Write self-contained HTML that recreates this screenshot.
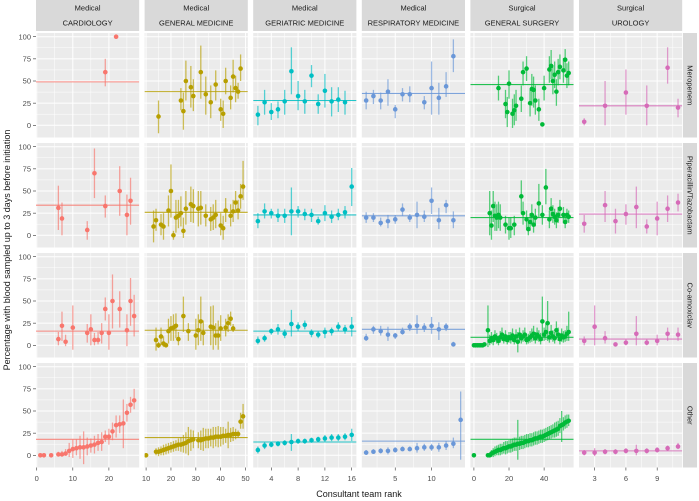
<!DOCTYPE html>
<html><head><meta charset="utf-8"><style>
body{margin:0;background:#fff;}
svg{display:block;font-family:"Liberation Sans",sans-serif;}
</style></head><body>
<svg id="chart" width="699" height="501" viewBox="0 0 699 501" xmlns="http://www.w3.org/2000/svg"></svg>
<script>
// ---- data ----
const specialties = ["CARDIOLOGY","GENERAL MEDICINE","GERIATRIC MEDICINE","RESPIRATORY MEDICINE","GENERAL SURGERY","UROLOGY"];
const groups = ["Medical","Medical","Medical","Medical","Surgical","Surgical"];
const antibiotics = ["Meropenem","Piperacillin/Tazobactam","Co-amoxiclav","Other"];
const colors = ["#F8766D","#B79F00","#00BFC4","#6A97D8","#00BA38","#D66BB8"];
const xDomains = [[-0.2,28.4],[9.4,50.9],[1.3,16.7],[0.4,14.6],[-2,56.8],[1.5,11.4]];
const xTicks = [[0,10,20],[10,20,30,40,50],[4,8,12,16],[5,10],[0,20,40],[3,6,9]];
const xMinor = [[5,15,25],[15,25,35,45],[2,6,10,14],[2.5,7.5,12.5],[10,30,50],[4.5,7.5,10.5]];
const yTicks = [0,25,50,75,100];
const refMero = [49,38,28,36,46,22];
const refPip = [34,26,23,22,20,24];
const refCoam = [16,17,16,18,9,7];
const refOther = [18,20,15,16,18,5];
// [rank, value, lower, upper]
const cardMero = [[19,60,44,75],[22,100,100,100]];
const cardPip = [[6,31,6,56],[7,19,0,37],[14,6,-5,16],[16,70,42,98],[19,33,20,45],[23,50,22,78],[25,23,0,46],[26,39,12,65]];
const cardCoam = [[6,7,0,15],[7,22,5,38],[8,4,-1,12],[10,20,-5,45],[14,14,3,24],[15,18,0,35],[16,6,0,14],[17,6,1,15],[18,14,2,25],[19,41,28,54],[20,14,-5,35],[21,50,19,80],[23,41,20,61],[25,17,-1,35],[26,50,22,76],[27,33,10,57]];
const cardOther = [[1,0,0,1],[2,0,0,1],[4,0,0,1],[6,1,0,4],[7,1,0,5],[8,2,0,7],[9,5,-2,14],[10,7,-3,18],[11,8,0,18],[12,9,-4,22],[13,9,-10,27],[14,10,0,20],[15,11,3,19],[16,12,2,22],[17,14,5,24],[18,15,5,26],[19,21,15,28],[20,21,12,30],[21,27,17,37],[22,34,20,45],[23,35,25,45],[24,36,8,63],[25,48,38,58],[26,57,48,66],[27,62,52,75]];
const gmMero = [[15,10,-9,28],[24,28,17,42],[25,16,-5,37],[26,50,28,73],[28,43,20,67],[29,33,16,52],[32,60,30,90],[34,35,12,55],[36,26,8,45],[38,46,28,62],[40,18,5,30],[41,13,-3,28],[42,50,35,65],[44,31,18,45],[45,55,37,74],[46,42,26,56],[47,38,30,48],[48,64,50,80]];
const gmPip = [[13,10,-8,28],[14,17,5,30],[16,12,0,24],[17,10,-5,25],[19,28,10,45],[20,50,20,80],[21,0,-5,5],[22,20,3,40],[23,22,8,40],[24,25,10,44],[25,5,-3,20],[26,30,12,50],[28,35,15,55],[29,33,14,52],[31,30,10,50],[32,31,12,50],[34,22,10,35],[36,18,5,32],[37,20,6,35],[38,23,8,40],[40,11,0,25],[41,8,-5,22],[42,28,15,42],[44,22,10,35],[45,27,15,40],[46,37,25,50],[47,28,18,40],[48,44,30,58],[49,55,40,84]];
const gmCoam = [[14,6,-6,20],[15,0,-3,4],[16,10,0,20],[17,2,-2,10],[18,0,-2,3],[19,16,2,30],[20,19,5,33],[21,20,5,35],[22,22,8,36],[23,7,0,15],[25,33,15,55],[27,16,5,25],[30,11,-5,30],[31,17,0,35],[32,27,5,55],[33,14,0,28],[36,21,0,44],[37,20,-5,45],[38,11,0,25],[39,11,-5,28],[40,19,5,34],[42,20,10,30],[43,25,15,35],[44,30,22,38],[45,19,15,24]];
const gmOther = [[10,0,0,2],[14,4,0,8],[15,4,-1,9],[16,5,0,10],[17,6,0,12],[18,7,1,13],[19,8,2,14],[20,9,3,15],[21,10,4,16],[22,11,5,17],[23,12,5,19],[24,12,4,20],[25,13,3,23],[26,14,2,26],[27,16,0,32],[28,17,5,29],[29,18,8,28],[31,17,8,26],[32,17,6,28],[33,18,5,31],[34,19,8,30],[35,19,8,30],[36,20,10,30],[37,20,8,32],[38,21,10,32],[39,21,9,33],[40,21,10,32],[41,22,12,32],[42,22,14,30],[43,23,8,38],[44,23,15,31],[45,24,16,32],[46,24,18,30],[47,24,20,28],[48,38,30,48],[49,44,30,58]];
const gerMero = [[2,12,0,22],[3,26,12,40],[4,15,6,25],[5,18,8,27],[6,27,12,40],[7,61,35,88],[8,33,17,50],[9,27,13,40],[10,56,43,68],[11,24,13,35],[12,39,20,58],[13,27,10,43],[14,29,15,43],[15,26,12,39]];
const gerPip = [[2,16,8,25],[3,27,19,36],[4,25,19,30],[5,22,15,30],[6,22,14,30],[7,27,0,54],[8,27,20,33],[9,24,17,30],[10,23,15,30],[11,16,12,21],[12,25,16,34],[13,21,14,28],[14,23,17,30],[15,26,19,33],[16,55,33,76]];
const gerCoam = [[2,5,1,10],[3,8,4,12],[4,16,12,19],[5,18,12,24],[6,13,8,18],[7,24,10,40],[8,21,16,26],[9,23,18,28],[10,14,9,18],[11,12,8,16],[12,15,8,20],[13,16,11,20],[14,21,16,26],[15,18,13,23],[16,21,10,32]];
const gerOther = [[2,6,2,10],[3,11,7,15],[4,12,9,15],[5,13,10,16],[6,14,11,17],[7,15,5,24],[8,16,13,19],[9,16,13,19],[10,17,14,20],[11,18,15,21],[12,19,15,23],[13,20,16,24],[14,20,16,24],[15,21,17,25],[16,23,16,30]];
const respMero = [[1,28,18,38],[2,33,24,40],[3,28,18,37],[4,38,22,52],[5,18,8,23],[6,35,27,42],[7,35,26,44],[9,26,18,33],[10,42,12,72],[11,31,12,48],[12,44,32,60],[13,78,60,97]];
const respPip = [[1,20,14,26],[2,20,15,25],[3,14,10,20],[4,16,8,23],[5,18,13,23],[6,29,22,36],[7,20,15,24],[8,23,8,38],[9,21,15,28],[10,39,24,54],[11,17,7,31],[12,34,25,40],[13,17,8,27]];
const respCoam = [[1,8,5,13],[2,18,13,22],[3,16,11,22],[4,12,5,21],[5,11,7,14],[6,15,12,20],[7,21,16,25],[8,22,13,34],[9,20,15,25],[10,22,13,32],[11,18,6,26],[12,21,16,25],[13,1,-1,4]];
const respOther = [[1,3,1,6],[2,4,2,7],[3,5,2,8],[4,5,1,9],[5,6,3,9],[6,7,5,10],[7,7,5,10],[8,8,3,14],[9,9,5,13],[10,9,5,13],[11,9,4,14],[12,11,6,16],[13,13,8,20],[14,40,-5,72]];
const gsMero = [[14,42,28,56],[18,24,8,40],[19,15,-2,32],[20,47,30,62],[22,13,-3,30],[23,17,0,35],[24,22,5,40],[27,30,15,45],[28,60,45,72],[30,64,50,78],[32,25,10,40],[33,41,22,58],[34,40,20,55],[35,28,12,45],[37,18,5,30],[39,1,0,3],[40,42,28,56],[43,63,48,78],[44,67,52,85],[45,50,35,68],[46,57,42,72],[47,38,22,52],[48,60,45,75],[49,66,52,80],[51,62,48,76],[52,74,60,86],[53,56,42,70],[54,59,45,72]];
const gsPip = [[9,25,0,50],[10,11,-5,28],[11,33,15,50],[12,22,5,38],[13,20,5,35],[14,23,8,38],[15,20,5,35],[18,12,2,22],[20,8,-5,20],[21,8,-3,20],[23,12,0,22],[27,44,25,62],[28,25,12,38],[30,18,8,28],[31,7,0,15],[32,15,5,25],[33,23,12,35],[34,12,3,22],[35,20,10,30],[37,36,20,58],[39,23,12,34],[41,54,35,75],[43,18,8,28],[44,30,18,42],[45,24,14,34],[46,21,12,30],[47,17,8,26],[48,23,14,32],[49,30,20,40],[51,23,14,32],[52,15,8,22],[53,23,15,30],[54,21,14,28]];
const gsCoam = [[0,0,0,1],[1,0,0,1],[2,0,0,1],[3,0,0,1],[4,0,0,1],[5,0,0,2],[6,1,0,3],[8,17,-2,45],[9,5,0,12],[10,8,2,15],[11,6,0,12],[12,10,4,17],[13,8,2,14],[14,5,0,11],[15,9,3,16],[16,12,5,20],[17,7,2,13],[18,10,4,17],[19,6,1,12],[20,9,3,15],[21,8,2,15],[22,11,4,19],[23,6,1,12],[24,10,3,18],[25,4,-8,15],[26,12,5,20],[27,8,2,14],[28,10,4,17],[29,12,5,20],[30,6,1,12],[31,7,2,13],[32,9,3,16],[33,11,4,19],[34,13,5,22],[35,8,2,15],[36,12,5,20],[37,10,4,17],[38,7,1,14],[39,27,5,55],[40,12,5,20],[41,15,6,25],[42,25,5,50],[43,9,3,16],[44,14,6,23],[45,10,4,17],[46,8,2,15],[47,17,8,27],[48,12,5,20],[49,7,1,14],[50,11,4,19],[51,9,3,16],[52,10,4,17],[53,13,5,22],[54,15,5,38]];
const gsOther = [[0,0,0,1],[8,0,0,2],[9,0,0,2],[10,2,-2,6],[11,3,-2,8],[12,4,-1,10],[13,5,0,11],[14,6,0,12],[15,6,0,13],[16,7,1,13],[17,8,2,15],[18,8,1,16],[19,9,2,16],[20,10,3,17],[21,10,3,18],[22,11,4,19],[23,12,5,20],[24,12,5,20],[25,13,-5,40],[26,13,6,21],[27,14,7,22],[28,14,7,22],[29,15,8,23],[30,16,9,24],[31,16,9,24],[32,17,10,25],[33,17,10,25],[34,18,11,26],[35,19,12,27],[36,19,12,27],[37,20,13,28],[38,21,14,29],[39,21,14,29],[40,22,15,30],[41,23,16,31],[42,24,17,32],[43,25,18,33],[44,26,19,34],[45,27,20,35],[46,28,20,37],[47,29,21,38],[48,30,22,39],[49,33,25,42],[50,34,15,50],[51,35,28,43],[52,37,30,45],[53,38,31,46],[54,39,33,46]];
const uroMero = [[2,4,0,8],[4,22,0,50],[6,37,12,63],[8,22,0,45],[10,65,47,88],[11,20,9,30]];
const uroPip = [[2,13,3,23],[4,34,15,50],[5,16,2,30],[6,24,12,35],[7,32,8,55],[8,10,2,18],[9,19,0,38],[10,30,15,45],[11,37,27,47]];
const uroCoam = [[2,5,0,10],[3,21,0,45],[4,8,2,16],[5,1,0,3],[6,3,0,7],[7,13,0,33],[8,3,0,7],[9,5,0,12],[10,13,5,20],[11,12,5,20]];
const uroOther = [[2,3,0,6],[3,3,-1,8],[4,4,1,7],[5,4,1,7],[6,5,2,8],[7,5,0,12],[8,5,2,8],[9,6,3,9],[10,8,5,11],[11,10,7,14]];

const grid = [
  [cardMero,gmMero,gerMero,respMero,gsMero,uroMero],
  [cardPip,gmPip,gerPip,respPip,gsPip,uroPip],
  [cardCoam,gmCoam,gerCoam,respCoam,gsCoam,uroCoam],
  [cardOther,gmOther,gerOther,respOther,gsOther,uroOther]
];
const refs = [refMero,refPip,refCoam,refOther];

// ---- layout ----
const NS="http://www.w3.org/2000/svg";
const svg=document.getElementById('chart');
const colL=c=>36+c*108.6, colW=103.2;
const rowT=r=>33+r*110, rowH=104.5;
function xs(c,v){const d=xDomains[c];return colL(c)+(v-d[0])/(d[1]-d[0])*colW;}
function ys(r,v){return rowT(r)+3.7+(100-v)*0.886;}
function el(tag,attrs,parent){const e=document.createElementNS(NS,tag);for(const k in attrs)e.setAttribute(k,attrs[k]);(parent||svg).appendChild(e);return e;}
function txt(s,attrs,parent){const e=el('text',attrs,parent);e.textContent=s;return e;}

for(let c=0;c<6;c++){
  const g=el('g',{});
  
  
  el('rect',{x:colL(c),y:0,width:colW,height:31,fill:'#d9d9d9'},g);
  txt(groups[c],{x:colL(c)+colW/2,y:10.5,'font-size':7.5,'text-anchor':'middle',fill:'#1a1a1a'},g);
  txt(specialties[c],{x:colL(c)+colW/2,y:25.5,'font-size':7.5,'text-anchor':'middle',fill:'#1a1a1a'},g);
}
for(let r=0;r<4;r++){
  const g=el('g',{});
  
  
  el('rect',{x:683,y:rowT(r),width:14,height:rowH,fill:'#d9d9d9'},g);
  const cx=690,cy=rowT(r)+rowH/2;
  txt(antibiotics[r],{x:cx,y:cy,'font-size':7.5,'text-anchor':'middle','dominant-baseline':'central',fill:'#1a1a1a',transform:`rotate(90 ${cx} ${cy})`},g);
}
for(let r=0;r<4;r++){for(let c=0;c<6;c++){
  const g=el('g',{});
  
  
  const L=colL(c),T=rowT(r);
  el('rect',{x:L,y:T,width:colW,height:rowH,fill:'#ebebeb'},g);
  [12.5,37.5,62.5,87.5].forEach(v=>el('line',{x1:L,x2:L+colW,y1:ys(r,v),y2:ys(r,v),stroke:'#fff','stroke-width':0.5},g));
  xMinor[c].forEach(v=>{const x=xs(c,v);if(x>L&&x<L+colW)el('line',{x1:x,x2:x,y1:T,y2:T+rowH,stroke:'#fff','stroke-width':0.5},g);});
  yTicks.forEach(v=>el('line',{x1:L,x2:L+colW,y1:ys(r,v),y2:ys(r,v),stroke:'#fff','stroke-width':1},g));
  xTicks[c].forEach(v=>el('line',{x1:xs(c,v),x2:xs(c,v),y1:T,y2:T+rowH,stroke:'#fff','stroke-width':1},g));
  const clip=el('clipPath',{id:'cp'+r+'_'+c},g);
  el('rect',{x:L,y:T,width:colW,height:rowH},clip);
  const m=el('g',{'clip-path':`url(#cp${r}_${c})`},g);
  const ref=el('line',{x1:L,x2:L+colW,y1:ys(r,refs[r][c]),y2:ys(r,refs[r][c]),stroke:colors[c],'stroke-width':1.1,opacity:0.85},m);
  
  
  grid[r][c].forEach(d=>{
    const x=xs(c,d[0]);
    if(d[3]>d[2]){
      const eb=el('line',{x1:x,x2:x,y1:ys(r,d[2]),y2:ys(r,d[3]),stroke:colors[c],'stroke-width':1.3,opacity:0.65},m);
      
      
    }
    const p=el('circle',{cx:x,cy:ys(r,d[1]),r:2.3,fill:colors[c]},m);
    
    
  });
}}
for(let r=0;r<4;r++){
  yTicks.forEach(v=>{
    const y=ys(r,v);
    el('line',{x1:33,x2:36,y1:y,y2:y,stroke:'#333','stroke-width':0.6});
    const t=txt(String(v),{x:31,y:y+2.7,'font-size':7.5,'text-anchor':'end',fill:'#4d4d4d'});
    
    
  });
}
for(let c=0;c<6;c++){
  xTicks[c].forEach(v=>{
    const x=xs(c,v);
    el('line',{x1:x,x2:x,y1:rowT(3)+rowH,y2:rowT(3)+rowH+3,stroke:'#333','stroke-width':0.6});
    const t=txt(String(v),{x:x,y:481,'font-size':7.5,'text-anchor':'middle',fill:'#4d4d4d'});
    
    
  });
}
const xt=txt('Consultant team rank',{x:359,y:497,'font-size':9,'text-anchor':'middle',fill:'#1a1a1a'});


const yt=txt('Percentage with blood sampled up to 3 days before initiation',{x:10,y:250,'font-size':9,'text-anchor':'middle',fill:'#1a1a1a',transform:'rotate(-90 10 250)'});


</script>
</body></html>
